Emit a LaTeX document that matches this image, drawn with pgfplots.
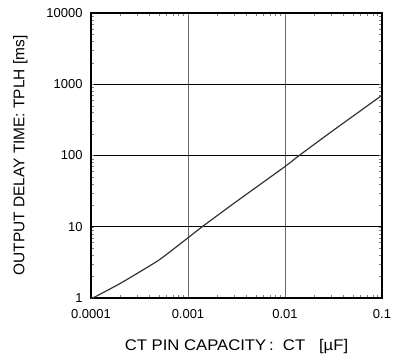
\documentclass[border=0pt]{standalone}
\usepackage{fontspec}
\setmainfont{Liberation Sans}
\usepackage{pgfplots}
\usetikzlibrary{calc}
\pgfplotsset{compat=1.18}
\begin{document}
\begin{tikzpicture}
\begin{axis}[
  scale only axis,
  width=291bp, height=285bp,
  xmode=log, ymode=log,
  xmin=0.0001, xmax=0.1, ymin=1, ymax=10000,
  xtick={0.0001,0.001,0.01,0.1},
  xticklabels={0.0001,0.001,0.01,0.1},
  ytick={1,10,100,1000,10000},
  yticklabels={1,10,100,1000,10000},
  minor xtick={}, minor ytick={},
  major tick length=0pt,
  tick label style={font=\fontsize{13}{15}\selectfont},
  xticklabel style={yshift=-8bp},
  yticklabel style={xshift=-5bp},
  axis line style={line width=1.6bp, black},
  xmajorgrids, ymajorgrids,
  x grid style={line width=0.9bp, black!60},
  y grid style={line width=0.9bp, black},
  xlabel={CT PIN CAPACITY\,:\ \ CT\ \ \ [µF]},
  ylabel={OUTPUT DELAY TIME:\ TPLH [ms]},
  label style={font=\fontsize{15.5}{17}\selectfont},
  xlabel style={at={(axis description cs:0.5,0)}, anchor=north, yshift=-38bp, xscale=1.08},
  ylabel style={at={(axis description cs:0,0.5)}, anchor=south, yshift=60bp},
]
\addplot[line width=1.2bp, black!80, smooth, tension=0.3] coordinates {
  (0.0001,0.97) (0.0002,1.6) (0.0005,3.4) (0.001,7.0) (0.0014,10) (0.003,21.5) (0.01,70) (0.014,100) (0.03,215) (0.1,700)
};
\end{axis}
\path[use as bounding box] ($(current axis.south west)+(-91bp,-66bp)$) rectangle ($(current axis.north east)+(19bp,13bp)$);
\end{tikzpicture}
\end{document}
